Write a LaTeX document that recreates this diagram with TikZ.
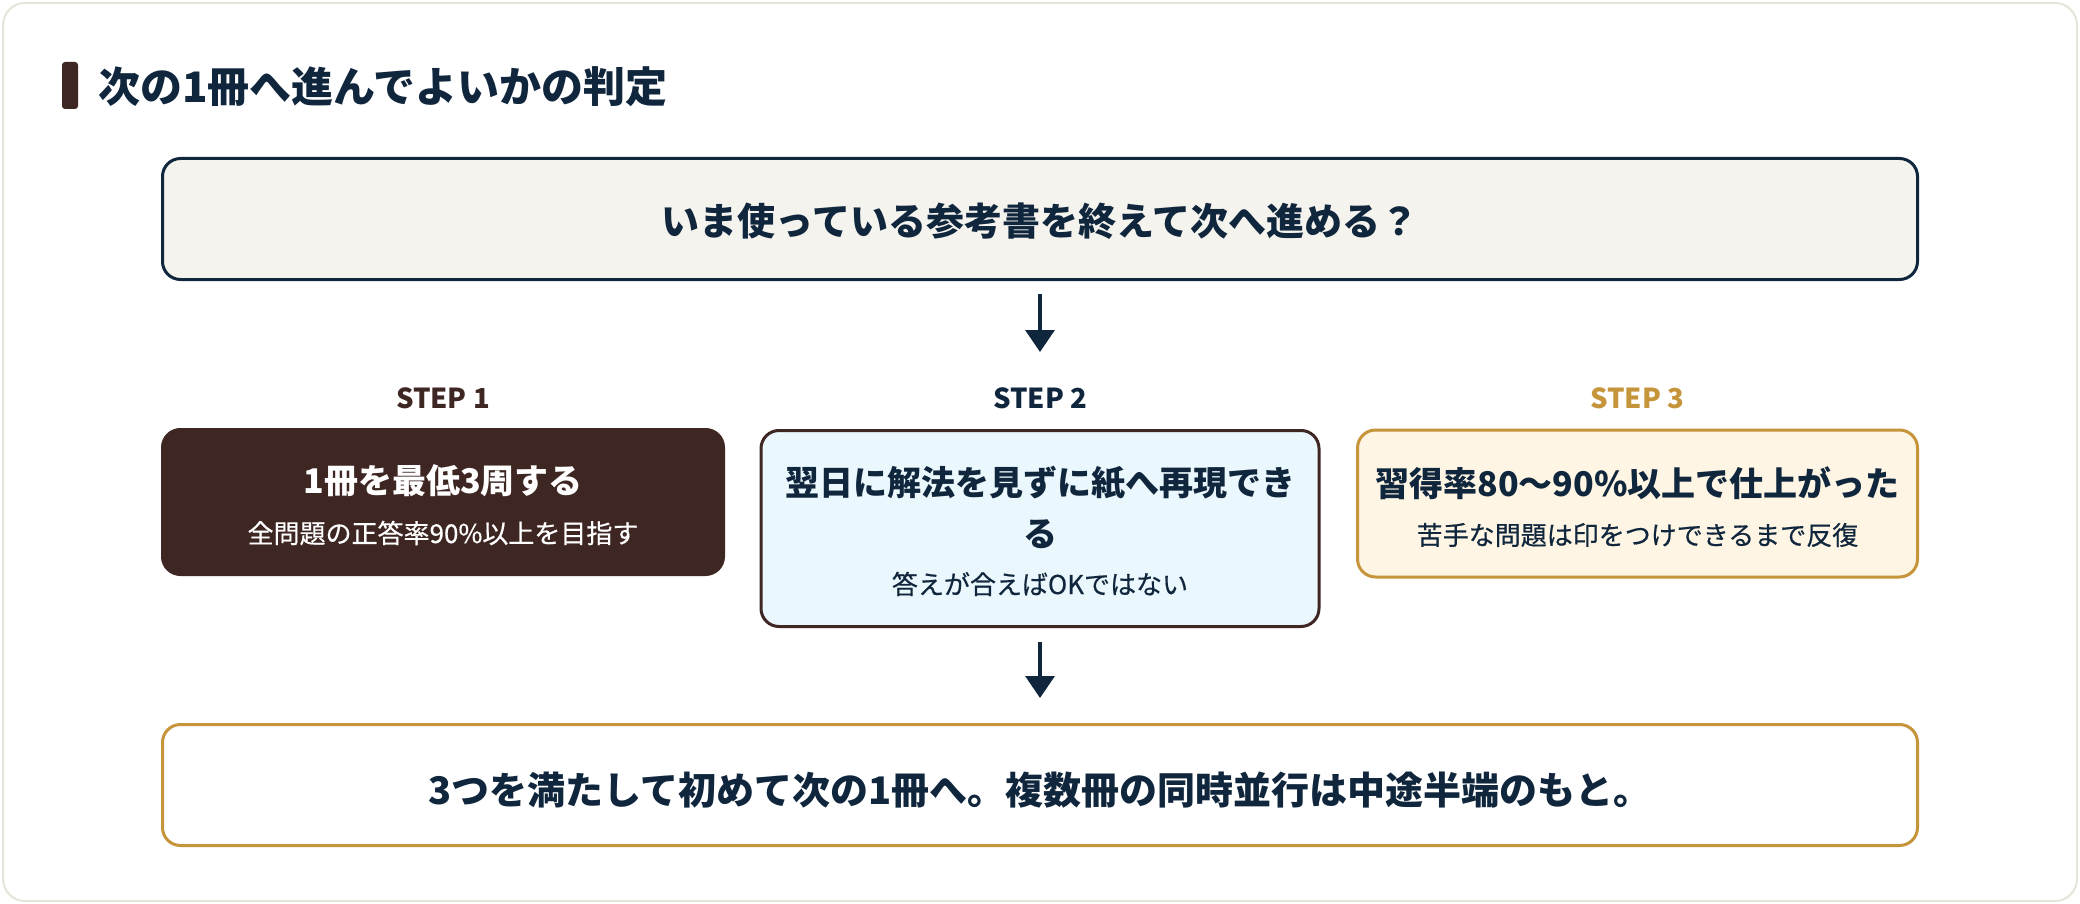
\documentclass[tikz,border=0pt]{standalone}
\usepackage{fontspec}
\setmainfont{Noto Sans CJK JP}
\newfontfamily\medjp[FakeBold=0.5]{Noto Sans CJK JP}
\usetikzlibrary{arrows.meta}
\definecolor{cnavy}{HTML}{10263D}
\definecolor{cbrown}{HTML}{3E2723}
\definecolor{cgold}{HTML}{C6943A}
\definecolor{cframe}{HTML}{E6E4DA}
\definecolor{ctopfill}{HTML}{F5F3EE}
\definecolor{cbluefill}{HTML}{EAF7FC}
\definecolor{cgoldfill}{HTML}{FEF5E4}
\tikzset{
  box/.style={rectangle, rounded corners=18pt, line width=3pt, inner sep=0pt},
  steplabel/.style={font=\fontsize{27.5}{32}\selectfont\bfseries, inner sep=0pt},
  maintext/.style={font=\fontsize{34}{40}\selectfont\bfseries, inner sep=0pt},
  subtext/.style={font=\medjp\fontsize{26}{30}\selectfont, inner sep=0pt},
  arr/.style={line width=3.5pt, draw=cnavy, -{Triangle[width=29pt,length=22pt]}},
}
\begin{document}
\begin{tikzpicture}[x=1pt,y=-1pt]
\useasboundingbox (0,0) rectangle (2080,904);
% outer frame
\draw[cframe, line width=2pt, fill=white, rounded corners=22pt] (3,3) rectangle (2077,901);
% title
\fill[cbrown, rounded corners=3pt] (62,62) rectangle (78,109);
\node[anchor=west, font=\fontsize{42}{50}\selectfont\bfseries, text=cnavy, inner sep=0pt] (title) at (98,87) {次の1冊へ進んでよいかの判定};
% top question box
\node[box, draw=cnavy, fill=ctopfill, minimum width=1755pt, minimum height=121pt] (top) at (1040,219) {};
\node[font=\fontsize{38}{44}\selectfont\bfseries, text=cnavy, inner sep=0pt] (toptext) at (1040,221) {いま使っている参考書を終えて次へ進める？};
% step labels
\node[steplabel, text=cbrown] (l1) at (443,398) {STEP 1};
\node[steplabel, text=cnavy] (l2) at (1040,398) {STEP 2};
\node[steplabel, text=cgold] (l3) at (1637,398) {STEP 3};
% step boxes
\node[box, draw=cbrown, fill=cbrown, minimum width=561pt, minimum height=145pt] (s1) at (443,502) {};
\node[box, draw=cbrown, fill=cbluefill, minimum width=558pt, minimum height=196pt] (s2) at (1040,528.5) {};
\node[box, draw=cgold, fill=cgoldfill, minimum width=560pt, minimum height=147pt] (s3) at (1637.5,503.5) {};
% step texts
\node[maintext, text=white] (s1a) at (443,481) {1冊を最低3周する};
\node[subtext, text=white] (s1b) at (443,533) {全問題の正答率90\%以上を目指す};
\node[maintext, text=cnavy] (s2a) at (1040,483) {翌日に解法を見ずに紙へ再現でき};
\node[maintext, text=cnavy] (s2b) at (1040,534) {る};
\node[subtext, text=cnavy] (s2c) at (1040,584) {答えが合えばOKではない};
\node[maintext, text=cnavy] (s3a) at (1637.5,483) {習得率80〜90\%以上で仕上がった};
\node[subtext, text=cnavy] (s3b) at (1637.5,535) {苦手な問題は印をつけできるまで反復};
% bottom box
\node[box, draw=cgold, fill=white, minimum width=1755pt, minimum height=121pt] (bot) at (1040,785) {};
\node[font=\fontsize{38}{44}\selectfont\bfseries, text=cnavy, inner sep=0pt] (bottext) at (1040,790) {3つを満たして初めて次の1冊へ。複数冊の同時並行は中途半端のもと。};
% arrows
\coordinate (a1e) at (1040,352);
\coordinate (a2e) at (1040,698);
\draw[arr] ([yshift=-13pt]top.south) -- (a1e);
\draw[arr] ([yshift=-14pt]s2.south) -- (a2e);
\end{tikzpicture}
\end{document}
